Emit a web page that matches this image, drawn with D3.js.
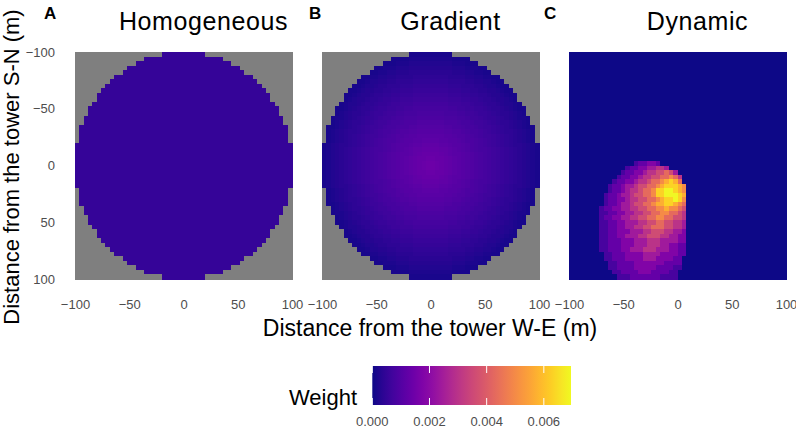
<!DOCTYPE html>
<html>
<head>
<meta charset="utf-8">
<script src="https://cdn.jsdelivr.net/npm/d3@7"></script>
<style>
  body { margin: 0; background: #fff; }
  text { font-family: "Liberation Sans", Arial, sans-serif; }
</style>
</head>
<body>
<svg id="chart" width="796" height="429"></svg>
<script>
// grid of 50 x 50 cells, 4 m each, from -100 to 100 m
var cellCenters = d3.range(-98, 100, 4);
var axisTicks = [-100, -50, 0, 50, 100];
var legendTicks = [0, 0.002, 0.004, 0.006];
var weightMax = 0.00695;
var panelTitles = ["Homogeneous", "Gradient", "Dynamic"];
var panelLetters = ["A", "B", "C"];

// cells inside the 100 m footprint on each side of the centre, by row (centre row outwards)
var footprintHalfCells = [25, 25, 25, 25, 25, 24, 24, 24, 24, 23, 23, 22, 22,
                          21, 20, 20, 19, 18, 17, 16, 14, 13, 11, 9, 5];

// A: same weight everywhere in the footprint
var homogeneousWeight = 0.00051;

// B: weight by 4 m distance ring from the tower
var gradientWeight = [0.00142, 0.00137, 0.00131, 0.00126, 0.00120, 0.00115, 0.00110,
                      0.00104, 0.00099, 0.00093, 0.00088, 0.00083, 0.00077, 0.00072,
                      0.00066, 0.00061, 0.00056, 0.00050, 0.00045, 0.00039, 0.00034,
                      0.00029, 0.00023, 0.00018, 0.00012];

// C: footprint, one character per cell (level index 0..b)
var dynamicLevels = [0, 0.0008, 0.0013, 0.0018, 0.0024, 0.0030, 0.0036,
                     0.0043, 0.0050, 0.0057, 0.0063, 0.0069];
var dynamicRowStart = 24, dynamicColStart = 5;
var dynamicRows = [
  "00000000001223320000000",
  "00000000122334455400000",
  "00000001223345566764000",
  "00000012233455667787500",
  "000001223345567789a9700",
  "00001223445667789aaa980",
  "000012234556778aabba980",
  "000122344566778aabbba90",
  "00012233455667789aaba80",
  "00012234456677899aa9870",
  "00122334455667788988760",
  "00112233445566778877650",
  "00122334455667788776650",
  "00112233444556677665540",
  "00112233445566777665540",
  "00112233344455666554430",
  "00112233444556665544330",
  "00112223334445554444330",
  "00112223334445554433220",
  "00112223344455544433220",
  "00011222333344443333220",
  "00011222333344433332200",
  "00001122223333333222200",
  "00001122223333322221100",
  "00000112222333222211000",
  "00000011122222221111000"
];

var svg = d3.select("#chart");
var panelLeft = [75, 322, 569], panelTop = 52, panelW = 217, panelH = 227;

var x = d3.scaleLinear().domain([-100, 100]).range([0, panelW]);
var y = d3.scaleLinear().domain([-100, 100]).range([0, panelH]);
var color = d3.scaleSequential(d3.interpolatePlasma).domain([0, weightMax]);

function inFootprint(r, c) {
  var kr = r < 25 ? 24 - r : r - 25;
  var kc = c < 25 ? 24 - c : c - 25;
  return kc < footprintHalfCells[kr];
}

var weightOf = [
  function (r, c) { return inFootprint(r, c) ? homogeneousWeight : null; },
  function (r, c) {
    if (!inFootprint(r, c)) return null;
    var ring = Math.min(24, Math.floor(Math.hypot(cellCenters[c], cellCenters[r]) / 4));
    return gradientWeight[ring];
  },
  function (r, c) {
    var row = dynamicRows[r - dynamicRowStart];
    if (!row) return 0;
    var ch = row.charAt(c - dynamicColStart);
    return ch ? dynamicLevels[parseInt(ch, 16)] : 0;
  }
];

panelTitles.forEach(function (title, p) {
  var cells = [];
  cellCenters.forEach(function (cy, r) {
    cellCenters.forEach(function (cx, c) {
      cells.push({ x: cx, y: cy, w: weightOf[p](r, c) });
    });
  });

  var g = svg.append("g").attr("transform", "translate(" + panelLeft[p] + "," + panelTop + ")");

  g.append("g")
    .attr("shape-rendering", "crispEdges")
    .selectAll("rect")
    .data(cells)
    .enter().append("rect")
    .attr("x", function (d) { return x(d.x - 2); })
    .attr("y", function (d) { return y(d.y - 2); })
    .attr("width", x(4) - x(0) + 0.6)
    .attr("height", y(4) - y(0) + 0.6)
    .attr("fill", function (d) { return d.w === null ? "#7f7f7f" : color(d.w); });

  var xAxis = g.append("g")
    .attr("transform", "translate(0," + panelH + ")")
    .call(d3.axisBottom(x).tickValues(axisTicks).tickSize(0).tickPadding(21));
  xAxis.select(".domain").remove();
  xAxis.selectAll("text").attr("font-size", 13).attr("fill", "#4d4d4d")
    .attr("font-family", "Liberation Sans, Arial, sans-serif");

  if (p === 0) {
    var yAxis = g.append("g")
      .call(d3.axisLeft(y).tickValues(axisTicks).tickSize(0).tickPadding(20));
    yAxis.select(".domain").remove();
    yAxis.selectAll("text").attr("font-size", 13).attr("fill", "#4d4d4d")
      .attr("font-family", "Liberation Sans, Arial, sans-serif");
  }

  svg.append("text")
    .attr("x", panelLeft[p] + panelW / 2 + 20)
    .attr("y", 30)
    .attr("text-anchor", "middle")
    .attr("font-size", 25)
    .attr("letter-spacing", 0.6)
    .text(title);
});

// panel letters
var letterX = [44, 309, 544];
panelLetters.forEach(function (l, i) {
  svg.append("text")
    .attr("x", letterX[i]).attr("y", 19)
    .attr("font-size", 17).attr("font-weight", "bold")
    .text(l);
});

// axis titles
svg.append("text")
  .attr("x", 430).attr("y", 336)
  .attr("text-anchor", "middle")
  .attr("font-size", 23)
  .text("Distance from the tower W-E (m)");

svg.append("text")
  .attr("transform", "translate(19,167) rotate(-90)")
  .attr("text-anchor", "middle")
  .attr("font-size", 22)
  .text("Distance from the tower S-N (m)");

// colour bar legend
var lx = d3.scaleLinear().domain([0, weightMax]).range([372.3, 571]);
var barTop = 366, barH = 39;

var grad = svg.append("defs").append("linearGradient").attr("id", "plasmaBar");
d3.range(0, 1.0001, 0.05).forEach(function (t) {
  grad.append("stop")
    .attr("offset", (t * 100) + "%")
    .attr("stop-color", color(t * weightMax));
});

svg.append("rect")
  .attr("x", lx(0)).attr("y", barTop)
  .attr("width", lx(weightMax) - lx(0)).attr("height", barH)
  .attr("fill", "url(#plasmaBar)");

legendTicks.forEach(function (v) {
  svg.append("line")
    .attr("x1", lx(v)).attr("x2", lx(v))
    .attr("y1", barTop).attr("y2", barTop + 7)
    .attr("stroke", "#fff").attr("stroke-width", 1);
  svg.append("line")
    .attr("x1", lx(v)).attr("x2", lx(v))
    .attr("y1", barTop + barH - 7).attr("y2", barTop + barH)
    .attr("stroke", "#fff").attr("stroke-width", 1);
  svg.append("text")
    .attr("x", lx(v)).attr("y", 426)
    .attr("text-anchor", "middle")
    .attr("font-size", 13).attr("fill", "#4d4d4d")
    .text(d3.format(".3f")(v));
});

svg.append("text")
  .attr("x", 289).attr("y", 405)
  .attr("font-size", 22)
  .text("Weight");
</script>
</body>
</html>
